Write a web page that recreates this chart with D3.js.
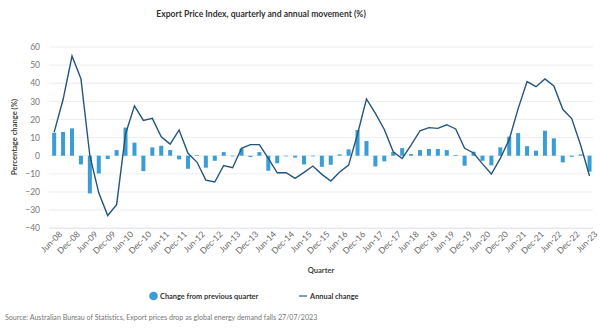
<!DOCTYPE html>
<html><head><meta charset="utf-8">
<script src="https://cdn.jsdelivr.net/npm/d3@7/dist/d3.min.js"></script>
<style>body{margin:0;background:#fff;} text{font-family:Lato,"Open Sans",sans-serif;}</style>
</head><body><svg id="c" width="600" height="333"></svg>
<script>
const quarters = (()=>{const m=["Mar","Jun","Sep","Dec"];const out=[];let y=8,q=1;for(let i=0;i<61;i++){out.push(m[q]+"-"+String(y).padStart(2,"0"));q++;if(q>3){q=0;y++;}}return out;})();
const quarterlyChange = [12.7,13.1,15.1,-4.8,-20.8,-9.8,-1.8,3.1,15.5,7.2,-8.5,4.6,5.5,3.1,-2,-7.2,0.3,-6.6,-2.8,2.0,0,3.9,-0.7,2.0,-8.3,-4.2,0,-1.0,-4.8,0,-6.1,-5.0,0.7,3.5,14.2,8.1,-5.9,-3.1,2.0,4.2,0.9,3.1,3.7,3.7,3.1,0.4,-5.5,2.2,-2.8,-5.3,4.6,10.5,12.5,5.3,2.8,13.8,9.6,-3.7,-0.6,0.7,-8.8];
const annualChange = [13,31,55,42.5,0,-20.5,-33,-27,12,27.5,19.5,20.6,10.5,6.4,14.2,1.3,-3.5,-13.5,-14.5,-5.4,-6.6,4.1,6.1,6.1,-1.5,-9.4,-9.4,-12.5,-9.2,-5.7,-10.3,-14,-9,-5.2,12,31.3,23.4,14.5,2.2,-1.5,5.9,13.8,15.5,15.1,17.1,14.8,4.1,1.5,-4.5,-10.1,-1.5,9,26,40.9,38.1,42.4,38.5,25.6,20.5,5.9,-11.2];
const yTicks = [60,50,40,30,20,10,0,-10,-20,-30,-40];
const xTickLabels = quarters.filter((d,i)=>i%2===0);

const svg = d3.select("#c");
const x = d3.scaleBand().domain(quarters).range([49.7,594]).paddingInner(0.55).paddingOuter(0.275);
const y = d3.scaleLinear().domain([-40,60]).range([228.2,47]);

svg.append("g").selectAll("line").data(yTicks).join("line")
  .attr("x1",49).attr("x2",593).attr("y1",d=>y(d)).attr("y2",d=>y(d))
  .attr("stroke",d=>d===-40?"#dcdce8":"#ededf2").attr("stroke-width",1);

const ya = svg.append("g").attr("transform","translate(49,0)").call(d3.axisLeft(y).tickValues(yTicks).tickSize(0).tickPadding(9));
ya.select(".domain").remove();
ya.selectAll("text").attr("fill","#777").style("font-size","8.5px").style("font-family","Lato,sans-serif");

svg.append("g").selectAll("rect").data(quarterlyChange).join("rect")
  .attr("x",(d,i)=>x(quarters[i])).attr("width",x.bandwidth())
  .attr("y",d=>y(Math.max(0,d))).attr("height",d=>Math.max(0.6,Math.abs(y(d)-y(0))))
  .attr("fill","#3b9dd5");

const line = d3.line().x((d,i)=>x(quarters[i])+x.bandwidth()/2).y(d=>y(d));
svg.append("path").datum(annualChange).attr("d",line).attr("fill","none").attr("stroke","#24557f").attr("stroke-width",1.4);

const xa = svg.append("g").attr("transform","translate(0,229)").call(d3.axisBottom(x).tickValues(xTickLabels).tickSize(0).tickPadding(4));
xa.select(".domain").remove();
xa.selectAll("text").attr("fill","#666").style("font-size","8.5px").style("font-family","Lato,sans-serif")
  .attr("text-anchor","end").attr("dx","2").attr("dy","6").attr("transform","rotate(-45)");

svg.append("text").attr("x",261).attr("y",17).attr("text-anchor","middle").attr("fill","#333").style("font-size","8.6px").style("font-weight","700").text("Export Price Index, quarterly and annual movement (%)");
svg.append("text").attr("transform","translate(17,137) rotate(-90)").attr("text-anchor","middle").attr("fill","#444").style("font-size","7.6px").style("font-weight","700").text("Percentage change (%)");
svg.append("text").attr("x",321).attr("y",273).attr("text-anchor","middle").attr("fill","#444").style("font-size","7.6px").style("font-weight","700").text("Quarter");

svg.append("circle").attr("cx",153.5).attr("cy",296).attr("r",4.3).attr("fill","#3b9dd5");
svg.append("text").attr("x",160).attr("y",298.8).attr("fill","#333").style("font-size","7.4px").style("font-weight","700").text("Change from previous quarter");
svg.append("line").attr("x1",299).attr("x2",307).attr("y1",296).attr("y2",296).attr("stroke","#5a80a3").attr("stroke-width",1.5);
svg.append("text").attr("x",310).attr("y",298.8).attr("fill","#333").style("font-size","7.4px").style("font-weight","700").text("Annual change");

svg.append("text").attr("x",5).attr("y",320).attr("fill","#777").style("font-size","7.1px").text("Source: Australian Bureau of Statistics, Export prices drop as global energy demand falls 27/07/2023");
</script></body></html>
